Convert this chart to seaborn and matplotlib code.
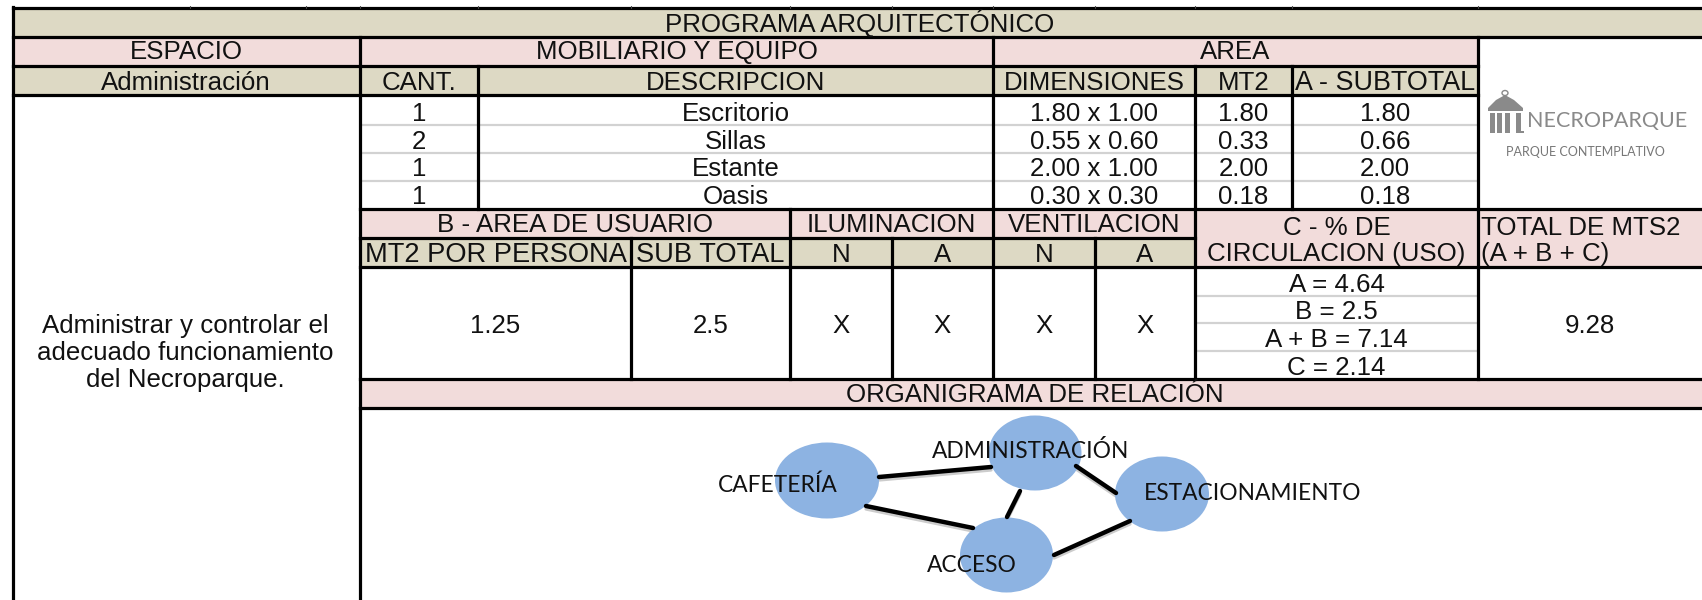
import matplotlib
matplotlib.use("Agg")
import matplotlib.pyplot as plt
import seaborn as sns
import pandas as pd
from matplotlib.patches import Ellipse, Rectangle, Polygon

# table contents
titulo = "PROGRAMA ARQUITECTÓNICO"
cantidades = ["1", "2", "1", "1"]
descripciones = ["Escritorio", "Sillas", "Estante", "Oasis"]
dimensiones = ["1.80 x 1.00", "0.55 x 0.60", "2.00 x 1.00", "0.30 x 0.30"]
mt2 = ["1.80", "0.33", "2.00", "0.18"]
subtotales = ["1.80", "0.66", "2.00", "0.18"]
circulacion = ["A = 4.64", "B = 2.5", "A + B = 7.14", "C = 2.14"]
nodos = ["CAFETERÍA", "ADMINISTRACIÓN", "ESTACIONAMIENTO", "ACCESO"]

TAN = "#DDD9C4"
PINK = "#F2DCDB"
BLUE = "#8DB3E2"
LIGHT = "#D2D2D2"
FONT = "Liberation Sans"
FS = 18.6

sns.set_theme(style="white")
plt.rcParams["font.family"] = [FONT, "DejaVu Sans"]

fig = plt.figure(figsize=(17.02, 6), dpi=100)
ax = fig.add_axes([0, 0, 1, 1])
ax.set_xlim(0, 1702)
ax.set_ylim(600, 0)
ax.axis("off")

# column and row edges of the sheet, in pixels
X0, X1, X2, X3, X4, X5, X6, X7, X8, X9, X10 = 12.5, 360, 478, 631, 790, 892, 993, 1095, 1195, 1292, 1478
XR = 1702
Y0, Y1, Y2, Y3, Y4, Y5, Y6, Y7, Y8 = 8, 37, 66, 95, 209, 238, 267, 379, 408
row_y = [112, 140, 167, 195]
row_rules = [125, 153, 181]
low_y = [283, 310, 338, 366]
low_rules = [296, 323, 351]


def cell(x0, y0, x1, y1, color):
    ax.add_patch(Rectangle((x0, y0), x1 - x0, y1 - y0, fc=color, ec="none", zorder=1))


def put(x, y, s, size=FS, **kw):
    ax.text(x, y - 0.5, s, ha=kw.pop("ha", "center"), va="center_baseline", fontsize=size, color="#111111", zorder=6, **kw)


for c in [
    (X0, Y0, XR, Y1, TAN), (X0, Y1, X1, Y2, PINK), (X1, Y1, X6, Y2, PINK), (X6, Y1, X10, Y2, PINK),
    (X0, Y2, X10, Y3, TAN), (X1, Y4, X8, Y5, PINK), (X1, Y5, X8, Y6, TAN),
    (X8, Y4, XR, Y6, PINK), (X1, Y7, XR, Y8, PINK),
]:
    cell(*c)

# light rules between rows
for y in row_rules:
    ax.plot([X1, X10], [y, y], color=LIGHT, lw=1.6, zorder=2, solid_capstyle="butt")
for y in low_rules:
    ax.plot([X8, X10], [y, y], color=LIGHT, lw=1.6, zorder=2, solid_capstyle="butt")

# black borders
segs = [
    (X0, 7, X0, 600), (X1, Y1, X1, 600), (X2, Y2, X2, Y4), (X6, Y1, X6, Y7), (X8, Y2, X8, Y7),
    (X9, Y2, X9, Y4), (X10, Y1, X10, Y7), (X3, Y5, X3, Y7), (X4, Y4, X4, Y7), (X5, Y5, X5, Y7),
    (X7, Y5, X7, Y7),
    (X0, Y0, XR, Y0), (X0, Y1, XR, Y1), (X0, Y2, X10, Y2), (X0, Y3, X10, Y3), (X1, Y4, XR, Y4),
    (X1, Y5, X8, Y5), (X1, Y6, XR, Y6), (X1, Y7, XR, Y7), (X1, Y8, XR, Y8),
]
for x0, y0, x1, y1 in segs:
    ax.plot([x0, x1], [y0, y1], color="black", lw=2.3, zorder=3, solid_capstyle="projecting")

# little column marks poking above the top border
for x in [190, 306, X1, X2, X3, X4, X5, X6, X7, X8, X9, X10]:
    ax.plot([x, x], [5.5, 8], color="#444444", lw=0.8, zorder=3)

# headers
put(860, 21.2, titulo)
put((X0 + X1) / 2, 50.2, "ESPACIO")
put((X1 + X6) / 2, 50.2, "MOBILIARIO Y EQUIPO")
put((X6 + X10) / 2, 50.2, "AREA")
put((X0 + X1) / 2, 81, "Administración")
put((X1 + X2) / 2, 81, "CANT.")
put((X2 + X6) / 2, 81, "DESCRIPCION")
put((X6 + X8) / 2, 81, "DIMENSIONES")
put((X8 + X9) / 2, 81, "MT2")
put((X9 + X10) / 2, 81, "A - SUBTOTAL", size=19.4)

for i in range(4):
    y = row_y[i]
    put((X1 + X2) / 2, y, cantidades[i])
    put((X2 + X6) / 2, y, descripciones[i])
    put((X6 + X8) / 2, y, dimensiones[i])
    put((X8 + X9) / 2, y, mt2[i])
    put((X9 + X10) / 2, y, subtotales[i])
    put((X8 + X10) / 2, low_y[i], circulacion[i])

put((X1 + X4) / 2, 223, "B - AREA DE USUARIO")
put((X4 + X6) / 2, 223, "ILUMINACION")
put((X6 + X8) / 2, 223, "VENTILACION")
put((X8 + X10) / 2, 226, "C - % DE")
put((X8 + X10) / 2, 252, "CIRCULACION (USO)")
put(X10 + 3, 226, "TOTAL DE MTS2", ha="left")
put(X10 + 3, 252, "(A + B + C)", ha="left")
put((X1 + X3) / 2, 253, "MT2 POR PERSONA", size=19.6)
put((X3 + X4) / 2, 253, "SUB TOTAL", size=19.6)
for x0, x1, s in [(X4, X5, "N"), (X5, X6, "A"), (X6, X7, "N"), (X7, X8, "A")]:
    put((x0 + x1) / 2, 253, s)

put((X1 + X3) / 2, 324, "1.25")
put((X3 + X4) / 2, 324, "2.5")
for x0, x1 in [(X4, X5), (X5, X6), (X6, X7), (X7, X8)]:
    put((x0 + x1) / 2, 324, "X")
put((X10 + XR) / 2, 324, "9.28")

put(185, 324, "Administrar y controlar el")
put(185, 351, "adecuado funcionamiento")
put(185, 378, "del Necroparque.")
put(1035, 393.5, "ORGANIGRAMA DE RELACIÓN")

# relation diagram: nodes and links
edges = pd.DataFrame({
    "link": [0, 0, 1, 1, 2, 2, 3, 3, 4, 4],
    "x": [879, 991, 866, 973, 1020, 1007, 1076, 1116, 1054, 1130],
    "y": [477, 467, 506, 528, 491, 517, 466, 493, 555, 521],
})
shadow = edges.assign(y=edges["y"] + 3)
sns.lineplot(data=shadow, x="x", y="y", units="link", estimator=None, sort=False,
             color="#CCCCCC", lw=2.4, ax=ax, zorder=4, legend=False)
sns.lineplot(data=edges, x="x", y="y", units="link", estimator=None, sort=False,
             color="black", lw=3.2, ax=ax, zorder=5, legend=False)
ax.axis("off")

for xc, yc, w, h in [(827, 480.5, 104, 76), (1035, 453, 93, 75), (1162, 494, 94, 75), (1006.5, 555, 93, 75)]:
    ax.add_patch(Ellipse((xc, yc), w, h, fc=BLUE, ec="none", zorder=4))
for (x, y), s in zip([(778, 483), (1031, 449), (1252.5, 491), (972, 563)], nodos):
    ax.text(x, y, s, ha="center", va="center_baseline", fontsize=16.4, family=["Lato", "DejaVu Sans"],
            color="#111111", zorder=6)

# logo, redrawn from simple shapes and thin text
GR = "#8A8A8A"
ax.add_patch(Polygon([(1488, 108), (1496, 100), (1505, 95), (1514, 100), (1523, 108)], fc=GR, ec="none", zorder=2))
ax.add_patch(Ellipse((1505, 93), 6, 5, fc="white", ec=GR, lw=1, zorder=2))
ax.add_patch(Rectangle((1488, 108), 35, 3, fc=GR, ec="none", zorder=2))
for x in [1490, 1497, 1505, 1516]:
    ax.add_patch(Rectangle((x, 113), 4.5, 20, fc=GR, ec="none", zorder=2))
ax.add_patch(Rectangle((1516, 131), 8, 2, fc=GR, ec="none", zorder=2))
ax.text(1607, 121, "NECROPARQUE", ha="center", va="center", fontsize=15.5, color="#8A8A8A",
        family=["Lato", "DejaVu Sans"])
ax.text(1585, 152, "PARQUE CONTEMPLATIVO", ha="center", va="center", fontsize=9, color="#777777",
        family=["Lato", "DejaVu Sans"])

fig.savefig("out.png", dpi=100)
